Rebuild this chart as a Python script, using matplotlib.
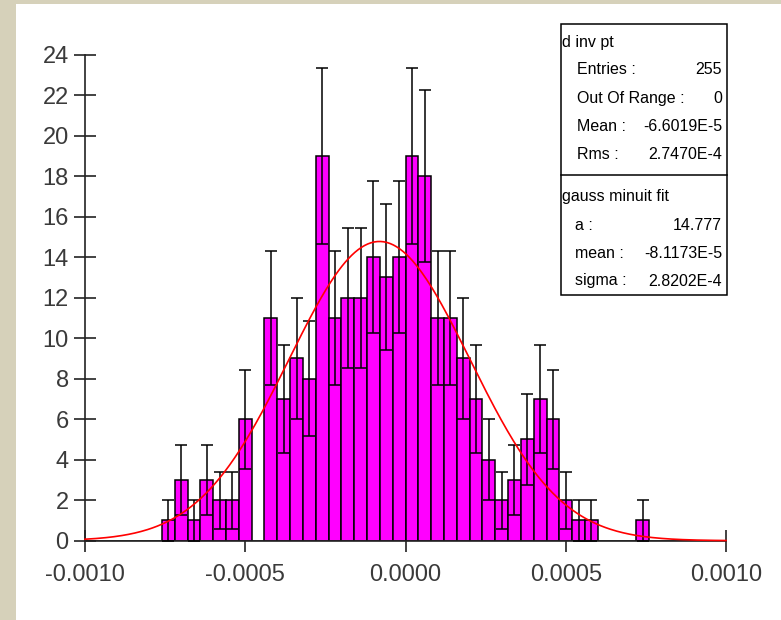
import numpy as np
import matplotlib.pyplot as plt
from matplotlib.patches import Rectangle
from matplotlib.lines import Line2D

# histogram of d inv pt, 50 bins from -0.001 to 0.001
bin_lo = -0.001
bin_hi = 0.001
n_bins = 50
counts = [0, 0, 0, 0, 0, 0, 1, 3, 1, 3,
          2, 2, 6, 0, 11, 7, 9, 8, 19, 11,
          12, 12, 14, 13, 14, 19, 18, 11, 11, 9,
          7, 4, 2, 3, 5, 7, 6, 2, 1, 1,
          0, 0, 0, 1, 0, 0, 0, 0, 0, 0]

# gauss minuit fit parameters
fit_a = 14.777
fit_mean = -8.1173e-5
fit_sigma = 2.8202e-4

stats_hist = [("Entries :", "255"), ("Out Of Range :", "0"),
              ("Mean :", "-6.6019E-5"), ("Rms :", "2.7470E-4")]
stats_fit = [("a :", "14.777"), ("mean :", "-8.1173E-5"), ("sigma :", "2.8202E-4")]

xticks = [-0.0010, -0.0005, 0.0, 0.0005, 0.0010]
xtick_labels = ["-0.0010", "-0.0005", "0.0000", "0.0005", "0.0010"]
yticks = list(range(0, 25, 2))

W, H = 781, 620
plt.rcParams['font.family'] = ['Liberation Sans', 'DejaVu Sans']

fig = plt.figure(figsize=(W / 100, H / 100), dpi=100)
fig.patch.set_facecolor('#d6d1ba')


def fx(px):
    return px / W


def fy(py):
    return 1 - py / H


# white panel
fig.add_artist(Rectangle((fx(16), 0), 1 - fx(16), fy(4), transform=fig.transFigure,
                         facecolor='white', edgecolor='none', zorder=0))

ax = fig.add_axes([fx(85), fy(540.7), fx(726) - fx(85), fy(54.7) - fy(540.7)])
ax.set_facecolor('none')

edges = np.linspace(bin_lo, bin_hi, n_bins + 1)
counts = np.array(counts)
width = edges[1] - edges[0]
centers = edges[:-1] + width / 2

ax.bar(edges[:-1], counts, width=width, align='edge', color='#ff00ff',
       edgecolor='black', linewidth=1.1, zorder=2)
nz = counts > 0
ax.errorbar(centers[nz], counts[nz], yerr=np.sqrt(counts[nz]), fmt='none',
            ecolor='black', elinewidth=1.1, capsize=4.6, capthick=1.1, zorder=3)

xs = np.linspace(bin_lo, bin_hi, 400)
ax.plot(xs, fit_a * np.exp(-0.5 * ((xs - fit_mean) / fit_sigma) ** 2),
        color='red', linewidth=1.2, zorder=4, clip_on=False)

ax.set_xlim(bin_lo, bin_hi)
ax.set_ylim(0, 24)
ax.set_xticks(xticks)
ax.set_xticklabels(xtick_labels)
ax.set_yticks(yticks)
for s in ['top', 'right']:
    ax.spines[s].set_visible(False)
for s in ['left', 'bottom']:
    ax.spines[s].set_linewidth(1.2)
    ax.spines[s].set_color('#222222')
ax.tick_params(direction='inout', length=15.5, width=1.2, color='#222222',
               labelsize=17, labelcolor='#3a3a3a')
ax.tick_params(axis='y', pad=4)
ax.tick_params(axis='x', pad=9)

# stats box
fig.add_artist(Rectangle((fx(561), fy(295)), fx(727) - fx(561), fy(24) - fy(295),
                         transform=fig.transFigure, facecolor='white',
                         edgecolor='black', linewidth=1.1, zorder=5))
fig.add_artist(Line2D([fx(561), fx(727)], [fy(175), fy(175)], transform=fig.transFigure,
                      color='black', linewidth=1.1, zorder=6))

fs = 11.5
fig.text(fx(562), fy(42.7), "d inv pt", fontsize=fs, va='center', ha='left', zorder=7)
for i, (lab, val) in enumerate(stats_hist):
    y = 70 + i * 28.3
    fig.text(fx(577), fy(y), lab, fontsize=fs, va='center', ha='left', zorder=7)
    fig.text(fx(722), fy(y), val, fontsize=fs, va='center', ha='right', zorder=7)

fig.text(fx(562), fy(196.7), "gauss minuit fit", fontsize=fs, va='center', ha='left', zorder=7)
for i, (lab, val) in enumerate(stats_fit):
    y = 225 + i * 28.0
    fig.text(fx(575), fy(y), lab, fontsize=fs, va='center', ha='left', zorder=7)
    fig.text(fx(722), fy(y), val, fontsize=fs, va='center', ha='right', zorder=7)

fig.savefig("out.png", dpi=100)
